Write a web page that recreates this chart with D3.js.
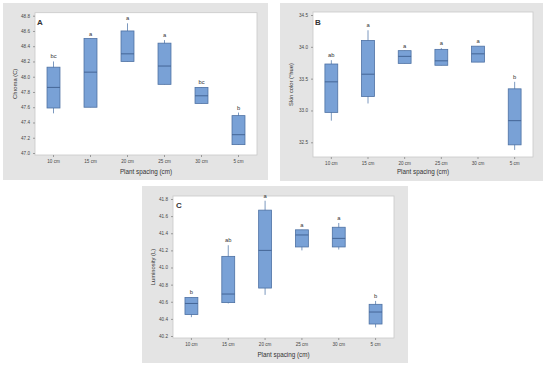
<!DOCTYPE html>
<html>
<head>
<meta charset="utf-8">
<script src="https://cdn.jsdelivr.net/npm/d3@7"></script>
<style>
  body { margin: 0; background: #fff; }
  text { font-family: "Liberation Sans", Arial, sans-serif; fill: #333; }
</style>
</head>
<body>
<svg id="chart" width="550" height="369"></svg>
<script>
const categories = ["10 cm", "15 cm", "20 cm", "25 cm", "30 cm", "5 cm"];

// panel A - Chroma
const chromaLow = [47.52, 47.60, 48.20, 47.90, 47.65, 47.11];
const chromaQ1 = [47.59, 47.60, 48.20, 47.90, 47.65, 47.11];
const chromaMed = [47.86, 48.06, 48.30, 48.14, 47.75, 47.24];
const chromaQ3 = [48.125, 48.50, 48.60, 48.44, 47.86, 47.49];
const chromaHigh = [48.20, 48.50, 48.70, 48.48, 47.86, 47.53];
const chromaLetters = ["bc", "a", "a", "a", "bc", "b"];
const chromaTicks = [47.0, 47.2, 47.4, 47.6, 47.8, 48.0, 48.2, 48.4, 48.6, 48.8];

// panel B - Skin color
const hueLow = [32.84, 33.11, 33.74, 33.71, 33.76, 32.38];
const hueQ1 = [32.97, 33.22, 33.74, 33.71, 33.76, 32.46];
const hueMed = [33.45, 33.57, 33.85, 33.78, 33.89, 32.84];
const hueQ3 = [33.73, 34.10, 33.94, 33.96, 34.01, 33.34];
const hueHigh = [33.79, 34.26, 33.94, 33.98, 34.01, 33.45];
const hueLetters = ["ab", "a", "a", "a", "a", "b"];
const hueTicks = [32.5, 33.0, 33.5, 34.0, 34.5];

// panel C - Luminosity
const lumLow = [40.42, 40.58, 40.68, 41.20, 41.21, 40.30];
const lumQ1 = [40.45, 40.59, 40.76, 41.24, 41.24, 40.34];
const lumMed = [40.58, 40.69, 41.20, 41.38, 41.34, 40.48];
const lumQ3 = [40.65, 41.13, 41.67, 41.44, 41.47, 40.57];
const lumHigh = [40.65, 41.26, 41.78, 41.44, 41.52, 40.61];
const lumLetters = ["b", "ab", "a", "a", "a", "b"];
const lumTicks = [40.2, 40.4, 40.6, 40.8, 41.0, 41.2, 41.4, 41.6, 41.8];

const svg = d3.select("#chart");

function drawPanel(p) {
  const g = svg.append("g");

  // grey frame + white plot area
  g.append("rect")
    .attr("x", p.frame[0]).attr("y", p.frame[1])
    .attr("width", p.frame[2] - p.frame[0]).attr("height", p.frame[3] - p.frame[1])
    .attr("fill", "#e4e4e4");
  g.append("rect")
    .attr("x", p.plot[0]).attr("y", p.plot[1])
    .attr("width", p.plot[2] - p.plot[0]).attr("height", p.plot[3] - p.plot[1])
    .attr("fill", "#fff")
    .attr("stroke", "#c8c8c8")
    .attr("stroke-width", 0.8);

  const x = d3.scaleBand()
    .domain(categories)
    .range([p.plot[0], p.plot[2]]);

  const y = d3.scaleLinear()
    .domain([p.ticks[0], p.ticks[p.ticks.length - 1]])
    .range(p.yRange);

  const yAxis = g.append("g")
    .attr("transform", `translate(${p.plot[0]},0)`)
    .call(d3.axisLeft(y).tickValues(p.ticks).tickFormat(d3.format(".1f")).tickSize(2).tickPadding(3));
  yAxis.select(".domain").remove();
  yAxis.selectAll("line").attr("stroke", "#999");
  yAxis.selectAll("text").attr("font-size", 4.6).style("fill", "#444");

  const xAxis = g.append("g")
    .attr("transform", `translate(0,${p.plot[3]})`)
    .call(d3.axisBottom(x).tickSize(2).tickPadding(3));
  xAxis.select(".domain").remove();
  xAxis.selectAll("line").attr("stroke", "#999");
  xAxis.selectAll("text").attr("font-size", 4.6).style("fill", "#444");

  const rows = categories.map((c, i) => ({
    cat: c, lo: p.low[i], q1: p.q1[i], med: p.med[i], q3: p.q3[i], hi: p.high[i], letter: p.letters[i]
  }));

  const bw = x.bandwidth() * 0.35;
  const boxes = g.selectAll(".box").data(rows).join("g").attr("class", "box");

  boxes.append("line")
    .attr("x1", d => x(d.cat) + x.bandwidth() / 2)
    .attr("x2", d => x(d.cat) + x.bandwidth() / 2)
    .attr("y1", d => y(d.lo))
    .attr("y2", d => y(d.hi))
    .attr("stroke", "#5b7fae")
    .attr("stroke-width", 0.8);

  boxes.append("rect")
    .attr("x", d => x(d.cat) + x.bandwidth() / 2 - bw / 2)
    .attr("y", d => y(d.q3))
    .attr("width", bw)
    .attr("height", d => y(d.q1) - y(d.q3))
    .attr("fill", "#79a1d6")
    .attr("stroke", "#4d71a3")
    .attr("stroke-width", 0.8);

  boxes.append("line")
    .attr("x1", d => x(d.cat) + x.bandwidth() / 2 - bw / 2)
    .attr("x2", d => x(d.cat) + x.bandwidth() / 2 + bw / 2)
    .attr("y1", d => y(d.med))
    .attr("y2", d => y(d.med))
    .attr("stroke", "#3e5f8e")
    .attr("stroke-width", 0.9);

  boxes.append("text")
    .attr("x", d => x(d.cat) + x.bandwidth() / 2)
    .attr("y", d => y(d.hi) - 3)
    .attr("text-anchor", "middle")
    .attr("font-size", 5.8)
    .text(d => d.letter);

  g.append("text")
    .attr("x", p.label[0]).attr("y", p.label[1])
    .attr("font-size", 8).attr("font-weight", "bold")
    .text(p.name);

  g.append("text")
    .attr("x", (p.plot[0] + p.plot[2]) / 2)
    .attr("y", p.xTitleY)
    .attr("text-anchor", "middle")
    .attr("font-size", 6.3)
    .text("Plant spacing (cm)");

  g.append("text")
    .attr("transform", `translate(${p.yTitleX},${(p.plot[1] + p.plot[3]) / 2}) rotate(-90)`)
    .attr("text-anchor", "middle")
    .attr("font-size", 5.8)
    .text(p.yTitle);
}

drawPanel({
  name: "A", yTitle: "Chroma (C)",
  frame: [3, 3, 268, 180], plot: [35, 12.7, 257, 155], yRange: [153, 15.7],
  label: [37, 25], xTitleY: 174, yTitleX: 17,
  ticks: chromaTicks, low: chromaLow, q1: chromaQ1, med: chromaMed, q3: chromaQ3, high: chromaHigh, letters: chromaLetters
});

drawPanel({
  name: "B", yTitle: "Skin color (°hue)",
  frame: [280, 3, 543, 181], plot: [313, 12, 533, 157], yRange: [142.3, 15],
  label: [315, 25], xTitleY: 174, yTitleX: 293,
  ticks: hueTicks, low: hueLow, q1: hueQ1, med: hueMed, q3: hueQ3, high: hueHigh, letters: hueLetters
});

drawPanel({
  name: "C", yTitle: "Luminosity (L)",
  frame: [142, 186, 408, 363], plot: [173, 196, 394, 338], yRange: [336, 199],
  label: [176, 208], xTitleY: 357, yTitleX: 155,
  ticks: lumTicks, low: lumLow, q1: lumQ1, med: lumMed, q3: lumQ3, high: lumHigh, letters: lumLetters
});
</script>
</body>
</html>
